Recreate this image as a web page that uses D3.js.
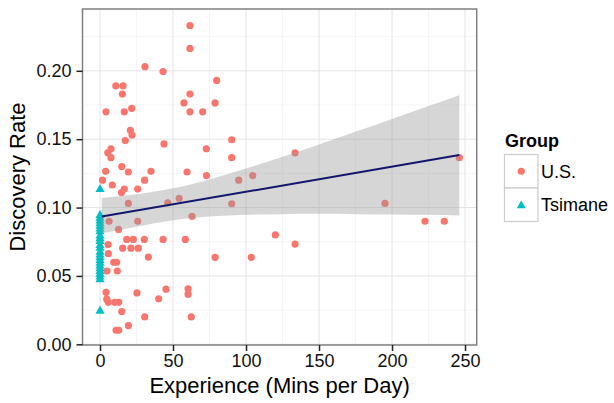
<!DOCTYPE html>
<html>
<head>
<meta charset="utf-8">
<script src="https://cdn.jsdelivr.net/npm/d3@7"></script>
<style>
  html, body { margin: 0; padding: 0; background: #fff; }
  svg { display: block; font-family: "Liberation Sans", Arial, Helvetica, sans-serif; }
</style>
</head>
<body>
<svg id="chart" width="614" height="403"></svg>
<script>
// ---- Data ----
const usExp = [30.8, 43.2, 10.8, 15.8, 15.3, 4.1, 16.6, 21.7, 57.5, 20.8,
  21.9, 17.3, 43.8, 7.5, 5.3, 7.5, 14.9, 3.9, 19.4, 34.9,
  1.7, 8.4, 30.5, 16.6, 14.7, 25.8, 19.4, 46.4, 54.2, 59.6,
  6.2, 12.7, 25.8, 18.3, 22.8, 30.3, 43.2, 5.5, 15.5, 21.2,
  26.2, 5.7, 33.1, 9.4, 11.4, 11.8, 4.8, 4.1, 25.3, 45.2,
  40.2, 4.6, 5.7, 10.1, 12.8, 14.9, 30.6, 19.4, 11.0, 12.8,
  61.6, 61.6, 79.9, 61.6, 78.8, 61.6, 70.3, 90.2, 72.8, 90.2,
  72.9, 95.0, 104.6, 133.6, 90.2, 63.0, 58.4, 120.1, 133.6, 78.8,
  103.6, 60.3, 60.3, 62.5, 195.2, 222.6, 235.8, 246.1];
const usRate = [0.203, 0.1995, 0.189, 0.189, 0.183, 0.170, 0.170, 0.1725, 0.1765, 0.1565,
  0.153, 0.149, 0.1465, 0.143, 0.140, 0.1365, 0.130, 0.1265, 0.126, 0.1265,
  0.120, 0.1165, 0.120, 0.1135, 0.111, 0.1135, 0.103, 0.1035, 0.1068, 0.126,
  0.090, 0.084, 0.090, 0.0767, 0.0767, 0.0767, 0.0767, 0.073, 0.0703, 0.0703,
  0.0703, 0.0663, 0.0638, 0.060, 0.060, 0.0536, 0.0536, 0.038, 0.0376, 0.0403,
  0.0333, 0.033, 0.0307, 0.0307, 0.0307, 0.024, 0.020, 0.0137, 0.0103, 0.0103,
  0.233, 0.2164, 0.193, 0.183, 0.1765, 0.170, 0.170, 0.1496, 0.143, 0.1365,
  0.1234, 0.120, 0.1234, 0.140, 0.1028, 0.0936, 0.0767, 0.080, 0.0733, 0.0636,
  0.0636, 0.0406, 0.0367, 0.020, 0.103, 0.090, 0.090, 0.1365];

const tsExp = [0, 0, 0, 0, 0, 0, 0, 0, 0, 0, 0, 0, 0, 0, 0, 0, 0, 0, 0, 0, 0, 0, 0, 0, 0];
const tsRate = [0.114, 0.095, 0.093, 0.091, 0.089, 0.087, 0.085, 0.083, 0.080, 0.078,
  0.076, 0.073, 0.071, 0.068, 0.066, 0.064, 0.062, 0.060, 0.058, 0.056,
  0.054, 0.052, 0.050, 0.048, 0.025];

// linear fit and its confidence band
const fitExp = [1.2, 246.1];
const fitRate = [0.0934, 0.1384];
const bandExp = [1.2, 25, 50, 75, 100, 125, 150, 175, 200, 225, 246.1];
const bandLo = [0.081, 0.0859, 0.0907, 0.0934, 0.0947, 0.0952, 0.0954, 0.0952, 0.0950, 0.0947, 0.0942];
const bandHi = [0.107, 0.1097, 0.1141, 0.1206, 0.1285, 0.1371, 0.1462, 0.1554, 0.1648, 0.1743, 0.1822];

const xTicks = [0, 50, 100, 150, 200, 250];
const xMinor = [25, 75, 125, 175, 225];
const yTicks = [0.00, 0.05, 0.10, 0.15, 0.20];
const yMinor = [0.025, 0.075, 0.125, 0.175, 0.225];
const groups = ["U.S.", "Tsimane"];
const groupColors = ["#F8766D", "#00BFC4"];

// ---- Layout ----
const svg = d3.select("#chart");
const P = { left: 82.5, right: 476.7, top: 9, bottom: 345 };
const x = d3.scaleLinear().domain([-12, 258]).range([P.left, P.right]);
const y = d3.scaleLinear().domain([-0.0005, 0.2452]).range([P.bottom, P.top]);

// panel background
svg.append("rect").attr("x", P.left).attr("y", P.top)
  .attr("width", P.right - P.left).attr("height", P.bottom - P.top)
  .attr("fill", "#fff");

// grid
const grid = svg.append("g");
grid.selectAll(".xm").data(xMinor).join("line")
  .attr("x1", d => x(d)).attr("x2", d => x(d)).attr("y1", P.top).attr("y2", P.bottom)
  .attr("stroke", "#f5f5f5").attr("stroke-width", 1);
grid.selectAll(".ym").data(yMinor).join("line")
  .attr("y1", d => y(d)).attr("y2", d => y(d)).attr("x1", P.left).attr("x2", P.right)
  .attr("stroke", "#f5f5f5").attr("stroke-width", 1);
grid.selectAll(".xM").data(xTicks).join("line")
  .attr("x1", d => x(d)).attr("x2", d => x(d)).attr("y1", P.top).attr("y2", P.bottom)
  .attr("stroke", "#e5e5e5").attr("stroke-width", 1);
grid.selectAll(".yM").data(yTicks).join("line")
  .attr("y1", d => y(d)).attr("y2", d => y(d)).attr("x1", P.left).attr("x2", P.right)
  .attr("stroke", "#e5e5e5").attr("stroke-width", 1);

// points: U.S.
const us = usExp.map((e, i) => ({ e, r: usRate[i] }));
svg.append("g").selectAll("circle").data(us).join("circle")
  .attr("cx", d => x(d.e)).attr("cy", d => y(d.r)).attr("r", 3.6)
  .attr("fill", groupColors[0]);

// points: Tsimane
const ts = tsExp.map((e, i) => ({ e, r: tsRate[i] }));
const tri = d3.symbol().type(d3.symbolTriangle).size(36);
svg.append("g").selectAll("path").data(ts).join("path")
  .attr("d", tri)
  .attr("transform", d => `translate(${x(d.e)},${y(d.r) + 0.9})`)
  .attr("fill", groupColors[1]);

// confidence band
const band = bandExp.map((e, i) => ({ e, lo: bandLo[i], hi: bandHi[i] }));
svg.append("path").datum(band)
  .attr("d", d3.area().x(d => x(d.e)).y0(d => y(d.lo)).y1(d => y(d.hi)).curve(d3.curveMonotoneX))
  .attr("fill", "#999999").attr("fill-opacity", 0.4);

// fit line
const fit = fitExp.map((e, i) => ({ e, r: fitRate[i] }));
svg.append("path").datum(fit)
  .attr("d", d3.line().x(d => x(d.e)).y(d => y(d.r)))
  .attr("fill", "none").attr("stroke", "#15156b").attr("stroke-width", 2);

// panel border
svg.append("rect").attr("x", P.left).attr("y", P.top)
  .attr("width", P.right - P.left).attr("height", P.bottom - P.top)
  .attr("fill", "none").attr("stroke", "#808080").attr("stroke-width", 1.5);

// axes
const xAxis = d3.axisBottom(x).tickValues(xTicks).tickFormat(d3.format("d")).tickSize(6).tickPadding(3);
const gx = svg.append("g").attr("transform", `translate(0,${P.bottom})`).call(xAxis);
gx.select(".domain").remove();
gx.selectAll(".tick line").attr("stroke", "#222").attr("stroke-width", 1.5);
gx.selectAll(".tick text").attr("font-size", 18).attr("fill", "#111")
  .attr("font-family", "Liberation Sans, Arial, sans-serif");

const yAxis = d3.axisLeft(y).tickValues(yTicks).tickFormat(d3.format(".2f")).tickSize(6).tickPadding(5);
const gy = svg.append("g").attr("transform", `translate(${P.left},0)`).call(yAxis);
gy.select(".domain").remove();
gy.selectAll(".tick line").attr("stroke", "#222").attr("stroke-width", 1.5);
gy.selectAll(".tick text").attr("font-size", 18).attr("fill", "#111")
  .attr("font-family", "Liberation Sans, Arial, sans-serif");

// axis titles
svg.append("text").attr("x", (P.left + P.right) / 2).attr("y", 393)
  .attr("text-anchor", "middle").attr("font-size", 22).attr("fill", "#000")
  .text("Experience (Mins per Day)");
svg.append("text").attr("transform", `translate(25,${(P.top + P.bottom) / 2}) rotate(-90)`)
  .attr("text-anchor", "middle").attr("font-size", 22).attr("fill", "#000")
  .text("Discovery Rate");

// legend
const lg = svg.append("g");
lg.append("text").attr("x", 505).attr("y", 147).attr("font-size", 18)
  .attr("font-weight", "bold").attr("fill", "#000").text("Group");
const keyTop = 154.5, keySize = 33.5;
groups.forEach((g, i) => {
  const ky = keyTop + i * keySize;
  lg.append("rect").attr("x", 504.5).attr("y", ky).attr("width", keySize).attr("height", keySize)
    .attr("fill", "#fff").attr("stroke", "#cccccc").attr("stroke-width", 1.2);
  const cx = 504.5 + keySize / 2, cy = ky + keySize / 2;
  if (i === 0) {
    lg.append("circle").attr("cx", cx).attr("cy", cy).attr("r", 3.6).attr("fill", groupColors[0]);
  } else {
    lg.append("path").attr("d", tri).attr("transform", `translate(${cx},${cy + 0.9})`).attr("fill", groupColors[1]);
  }
  lg.append("text").attr("x", 541).attr("y", cy + 6.5).attr("font-size", 18).attr("fill", "#000").text(g);
});
</script>
</body>
</html>
